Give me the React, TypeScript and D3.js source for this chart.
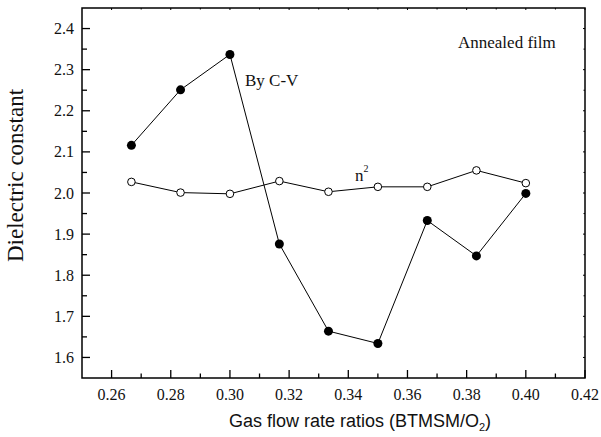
import React from "react";
import * as d3 from "d3";

// gas flow ratio BTMSM/O2
const ratios = [0.2667, 0.2833, 0.3, 0.3167, 0.3333, 0.35, 0.3667, 0.3833, 0.4];
// dielectric constant measured by C-V
const byCV = [2.116, 2.251, 2.337, 1.876, 1.664, 1.634, 1.933, 1.847, 1.999];
// refractive index squared
const nSquared = [2.027, 2.001, 1.998, 2.029, 2.003, 2.015, 2.015, 2.055, 2.024];

const xTicks = [0.26, 0.28, 0.3, 0.32, 0.34, 0.36, 0.38, 0.4, 0.42];
const xMinor = [0.27, 0.29, 0.31, 0.33, 0.35, 0.37, 0.39, 0.41];
const yTicks = [1.6, 1.7, 1.8, 1.9, 2.0, 2.1, 2.2, 2.3, 2.4];
const yMinor = [1.65, 1.75, 1.85, 1.95, 2.05, 2.15, 2.25, 2.35];

const W = 601, H = 437;
const L = 82, R = 585, T = 8, B = 378;
const serif = "'Liberation Serif', 'Times New Roman', serif";
const sans = "'Liberation Sans', Arial, sans-serif";

export default function App() {
  const x = d3.scaleLinear().domain([0.25, 0.42]).range([L, R]);
  const y = d3.scaleLinear().domain([1.55, 2.45]).range([B, T]);

  const line = d3.line<number>().x((_, i) => x(ratios[i])).y(d => y(d));

  return (
    <svg width={W} height={H} style={{ position: "absolute", left: 0, top: 0, background: "#fff" }}>
      {/* frame */}
      <rect x={L} y={T} width={R - L} height={B - T} fill="none" stroke="#000" strokeWidth={1.5} />

      {/* bottom ticks */}
      {xTicks.map(t => (
        <g key={"xt" + t}>
          <line x1={x(t)} x2={x(t)} y1={B} y2={B - 8} stroke="#000" strokeWidth={1.3} />
          <line x1={x(t)} x2={x(t)} y1={T} y2={T + 2} stroke="#000" strokeWidth={1} />
          <text x={x(t)} y={400} textAnchor="middle" fontFamily={serif} fontSize={16} fill="#111">
            {t.toFixed(2)}
          </text>
        </g>
      ))}
      {xMinor.map(t => (
        <g key={"xm" + t}>
          <line x1={x(t)} x2={x(t)} y1={B} y2={B - 4.5} stroke="#000" strokeWidth={1.3} />
          <line x1={x(t)} x2={x(t)} y1={T} y2={T + 1.5} stroke="#000" strokeWidth={1} />
        </g>
      ))}

      {/* left ticks */}
      {yTicks.map(t => (
        <g key={"yt" + t}>
          <line x1={L} x2={L + 8} y1={y(t)} y2={y(t)} stroke="#000" strokeWidth={1.3} />
          <line x1={R} x2={R - 2} y1={y(t)} y2={y(t)} stroke="#000" strokeWidth={1} />
          <text x={74} y={y(t)} dy="0.35em" textAnchor="end" fontFamily={serif} fontSize={16} fill="#111">
            {t.toFixed(1)}
          </text>
        </g>
      ))}
      {yMinor.map(t => (
        <g key={"ym" + t}>
          <line x1={L} x2={L + 5} y1={y(t)} y2={y(t)} stroke="#000" strokeWidth={1.3} />
          <line x1={R} x2={R - 1.5} y1={y(t)} y2={y(t)} stroke="#000" strokeWidth={1} />
        </g>
      ))}

      {/* series */}
      <path d={line(nSquared) ?? ""} fill="none" stroke="#000" strokeWidth={1} />
      <path d={line(byCV) ?? ""} fill="none" stroke="#000" strokeWidth={1} />
      {nSquared.map((v, i) => (
        <circle key={"o" + i} cx={x(ratios[i])} cy={y(v)} r={3.8} fill="#fff" stroke="#000" strokeWidth={1} />
      ))}
      {byCV.map((v, i) => (
        <circle key={"f" + i} cx={x(ratios[i])} cy={y(v)} r={4.5} fill="#000" />
      ))}

      {/* annotations */}
      <text x={458} y={48} fontFamily={serif} fontSize={17} fill="#111">Annealed film</text>
      <text x={245} y={86} fontFamily={serif} fontSize={17} fill="#111">By C-V</text>
      <text x={355} y={181} fontFamily={serif} fontSize={17} fill="#111">
        n<tspan fontSize={10} dy={-9}>2</tspan>
      </text>

      {/* axis titles */}
      <text
        transform={`translate(23,175.5) rotate(-90)`}
        textAnchor="middle"
        fontFamily={serif}
        fontSize={23}
        fill="#111"
      >
        Dielectric constant
      </text>
      <text x={360} y={427} textAnchor="middle" fontFamily={sans} fontSize={18} fill="#111">
        Gas flow rate ratios (BTMSM/O<tspan fontSize={11} dy={4}>2</tspan>
        <tspan dy={-4}>)</tspan>
      </text>
    </svg>
  );
}
